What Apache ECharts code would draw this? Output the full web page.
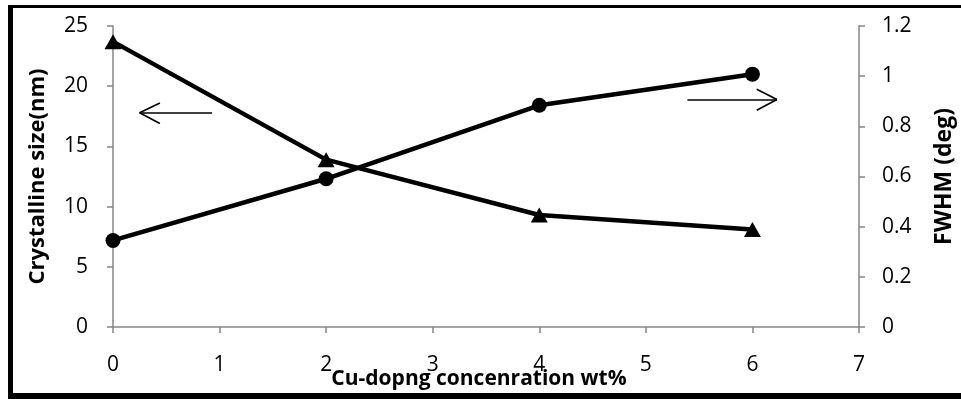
<!DOCTYPE html>
<html>
<head>
<meta charset="utf-8">
<script src="https://cdn.jsdelivr.net/npm/echarts@6/dist/echarts.min.js"></script>
<style>
  html, body { margin: 0; padding: 0; background: #fff; }
  #main { width: 961px; height: 399px; }
</style>
</head>
<body>
<div id="main"></div>
<script>
// Cu doping (wt%)
var dopings = [0, 2, 4, 6];
// crystallite size, left axis (nm)
var sizes = [23.7, 13.9, 9.3, 8.1];
// FWHM, right axis (deg)
var fwhm = [0.345, 0.591, 0.884, 1.008];

// arrows drawn in left-axis data units: shaft + two head strokes
var leftArrow = [[0.93, 17.8], [0.25, 17.8], [0.44, 18.6], [0.44, 16.9]];
var rightArrow = [[5.39, 18.9], [6.23, 18.9], [6.04, 19.75], [6.04, 18.0]];

function pairs(list){
	var out = [];
	for(var i = 0; i < list.length; i++){
		out.push([dopings[i], list[i]]);
	}
	return out;
}

function arrowLines(a){
	// a[1] is the tip
	return [
		[{coord: a[0]}, {coord: a[1]}],
		[{coord: a[2]}, {coord: a[1]}],
		[{coord: a[3]}, {coord: a[1]}]
	];
}

var axisGray = '#868686';
var font = '"Open Sans", "Liberation Sans", sans-serif';

var myChart = echarts.init(document.getElementById('main'));
var option = {
	backgroundColor: '#ffffff',
	animation: false,
	textStyle: { fontFamily: font },
	grid: { left: 113, right: 102, top: 26, bottom: 72, containLabel: false, outerBoundsMode: 'none' },
	graphic: [
		{ type: 'rect', shape: { x: 8, y: 5, width: 5, height: 394 }, style: { fill: '#000' } },
		{ type: 'rect', shape: { x: 8, y: 5, width: 953, height: 3 }, style: { fill: '#000' } },
		{ type: 'rect', shape: { x: 8, y: 393, width: 953, height: 6 }, style: { fill: '#000' } }
	],
	xAxis: {
		type: 'value',
		min: 0, max: 7, interval: 1,
		name: 'Cu-dopng concenration wt%',
		nameLocation: 'middle',
		nameGap: 42,
		nameMoveOverlap: false,
		nameTextStyle: { fontFamily: font, fontSize: 21, fontWeight: 'bold', color: '#000', padding: [0, 14, 0, 0] },
		axisLine: { lineStyle: { color: axisGray, width: 1.5 } },
		axisTick: { show: true, length: 6, lineStyle: { color: axisGray, width: 1.5 } },
		axisLabel: { color: '#000', fontSize: 21, margin: 28 },
		splitLine: { show: false }
	},
	yAxis: [
		{
			type: 'value',
			min: 0, max: 25, interval: 5,
			name: 'Crystalline size(nm)',
			nameLocation: 'middle',
			nameGap: 64,
			nameMoveOverlap: false,
			nameTextStyle: { fontFamily: font, fontSize: 22, fontWeight: 'bold', color: '#000' },
			axisLine: { show: true, lineStyle: { color: axisGray, width: 1.5 } },
			axisTick: { show: true, length: 6, lineStyle: { color: axisGray, width: 1.5 } },
			axisLabel: { color: '#000', fontSize: 21, margin: 25 },
			splitLine: { show: false }
		},
		{
			type: 'value',
			position: 'right',
			min: 0, max: 1.2, interval: 0.2,
			name: 'FWHM (deg)',
			nameLocation: 'middle',
			nameGap: 74,
			nameRotate: 90,
			nameMoveOverlap: false,
			nameTextStyle: { fontFamily: font, fontSize: 23, fontWeight: 'bold', color: '#000' },
			axisLine: { show: true, lineStyle: { color: axisGray, width: 1.5 } },
			axisTick: { show: true, length: 6, lineStyle: { color: axisGray, width: 1.5 } },
			axisLabel: {
				color: '#000', fontSize: 21, margin: 23,
				formatter: function(v){ return String(Math.round(v * 10) / 10); }
			},
			splitLine: { show: false }
		}
	],
	series: [
		{
			name: 'Crystalline size',
			type: 'line',
			yAxisIndex: 0,
			data: pairs(sizes),
			symbol: 'triangle',
			symbolSize: [17, 15],
			lineStyle: { color: '#000', width: 4.5 },
			itemStyle: { color: '#000' }
		},
		{
			name: 'FWHM',
			type: 'line',
			yAxisIndex: 1,
			data: pairs(fwhm),
			symbol: 'circle',
			symbolSize: 15,
			lineStyle: { color: '#000', width: 4.5 },
			itemStyle: { color: '#000' }
		},
		{
			name: 'arrows',
			type: 'line',
			yAxisIndex: 0,
			data: [],
			markLine: {
				silent: true,
				symbol: 'none',
				label: { show: false },
				lineStyle: { color: '#000', width: 1.6, type: 'solid' },
				data: arrowLines(leftArrow).concat(arrowLines(rightArrow))
			}
		}
	]
};
myChart.setOption(option);
</script>
</body>
</html>
